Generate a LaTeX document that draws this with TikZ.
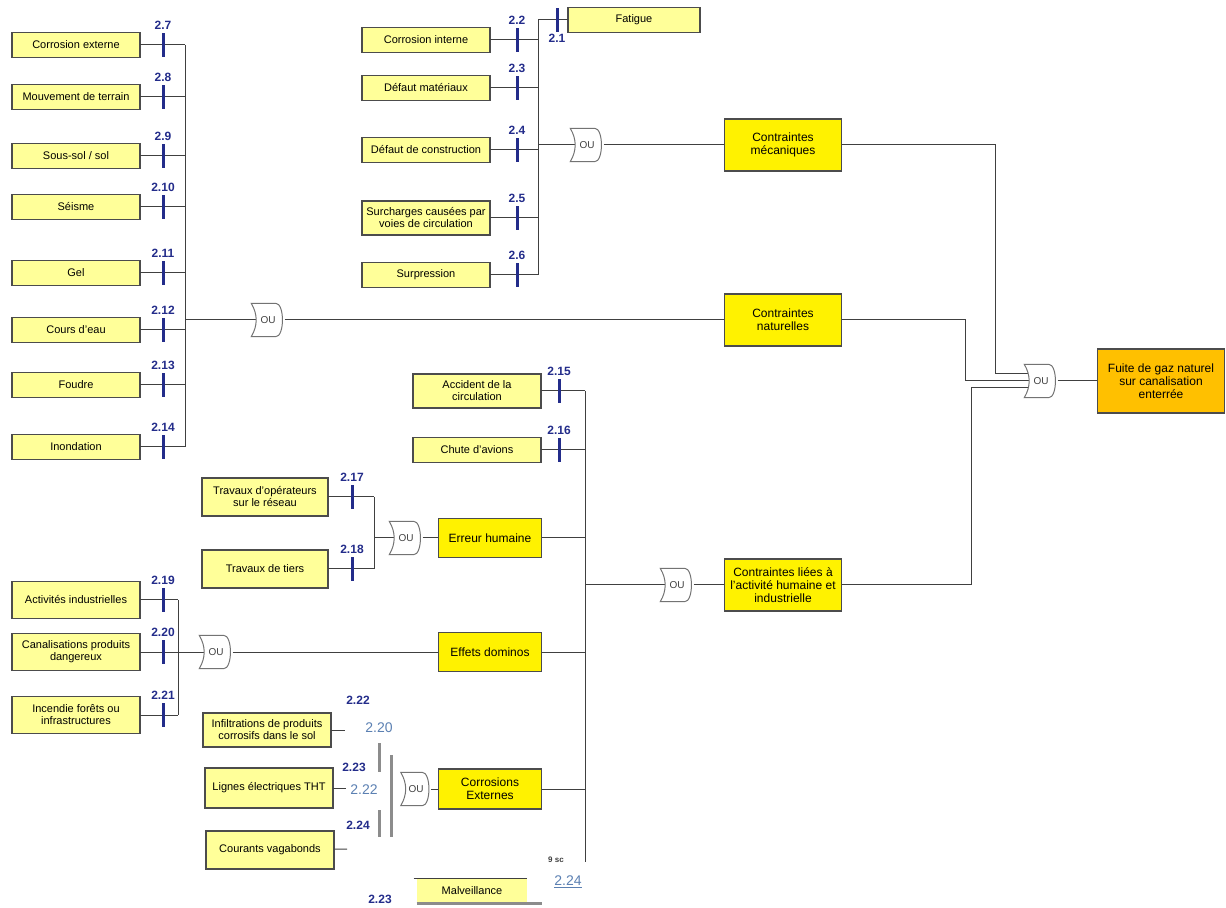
\documentclass[tikz,border=0pt]{standalone}
\usepackage{fontspec}
\setmainfont{Liberation Sans}
\usepackage{xcolor}
\usepackage{tikz}
\usetikzlibrary{positioning}
\definecolor{navy}{HTML}{232C8A}
\definecolor{steel}{HTML}{5B80B2}
\definecolor{paleyel}{HTML}{FFFF99}
\definecolor{gold}{HTML}{FFC000}

\begin{document}
\begin{tikzpicture}[
    x=1pt, y=-1pt, scale=0.5, transform shape,
    leaf/.style={draw=black!70, line width=0.9pt, fill=paleyel, align=center, minimum width=128, minimum height=25, inner xsep=1, inner ysep=7, font=\fontsize{11}{12}\selectfont},
    midbox/.style={leaf, fill=yellow, minimum width=103, minimum height=39, font=\fontsize{12}{13}\selectfont},
    mainbox/.style={midbox, minimum width=117, minimum height=52},
    topbox/.style={midbox, fill=gold, minimum width=127, minimum height=64},
    tick/.style={fill=navy, minimum width=3, minimum height=24, inner sep=0},
    num/.style={text=navy, font=\bfseries\fontsize{12}{12}\selectfont, inner sep=0},
    ref/.style={text=steel, font=\fontsize{14}{14}\selectfont, inner sep=0},
    gate/.style={minimum width=33, minimum height=33, inner sep=0, text=black!75, font=\fontsize{10}{10}\selectfont},
    gateline/.style={draw=black!55, line width=0.5pt},
    wire/.style={draw=black!75, line width=0.5pt},
    bar/.style={draw=black!45, line width=1.5pt}
  ]
  \useasboundingbox (0,0) rectangle (1226,908);

  % Natural causes
  \coordinate (busA) at (185,0);
  \foreach \nm/\yy/\txt/\lbl in {ce/45/Corrosion externe/2.7, mt/97/Mouvement de terrain/2.8, ss/156/{Sous-sol / sol}/2.9, se/207/Séisme/2.10, gel/273/Gel/2.11, cde/330/Cours d'eau/2.12, fou/385/Foudre/2.13, ino/447/Inondation/2.14}{
    \node[leaf] (\nm) at (76,\yy) {\txt};
    \draw[wire] (\nm) -- (\nm -| busA);
    \node[tick] (t\nm) at (163,\yy) {};
    \node[num, above=3pt of t\nm] (n\nm) {\lbl};
  }
  \draw[wire] (ce -| busA) -- (ino -| busA);
  \node[gate] (gN) at (268,320) {OU};
  \draw[wire] (gN -| busA) -- ([xshift=5pt]gN.west);
  \node[mainbox] (cn) at (783,320) {Contraintes\\naturelles};
  \draw[wire] (gN) -- (cn);

  % Mechanical causes
  \coordinate (busM) at (538,0);
  \node[leaf, minimum width=132] (fat) at (634,20) {Fatigue};
  \foreach \nm/\yy/\txt/\lbl in {ci/40/Corrosion interne/2.2, dm/88/Défaut matériaux/2.3, dc/150/Défaut de construction/2.4, sc/218/{Surcharges causées par\\voies de circulation}/2.5, sp/275/Surpression/2.6}{
    \node[leaf] (\nm) at (426,\yy) {\txt};
    \draw[wire] (\nm) -- (\nm -| busM);
    \node[tick] (t\nm) at (517,\yy) {};
    \node[num, above=3pt of t\nm] (n\nm) {\lbl};
  }
  \draw[wire] (fat -| busM) -- (sp -| busM);
  \draw[wire] (fat -| busM) -- (fat);
  \node[tick] (tfat) at (557,20) {};
  \node[num, below=2pt of tfat] (nfat) {2.1};
  \node[gate] (gM) at (587,145) {OU};
  \draw[wire] (gM -| busM) -- ([xshift=5pt]gM.west);
  \node[mainbox] (cm) at (783,145) {Contraintes\\mécaniques};
  \draw[wire] (gM) -- (cm);

  % Top event
  \node[gate] (gF) at (1041,381) {OU};
  \node[topbox] (fuite) at (1161,381) {Fuite de gaz naturel\\sur canalisation\\enterrée};
  \draw[wire] (gF) -- (fuite);
  \coordinate (inM) at (1028,374);
  \coordinate (inN) at (1029,381);
  \coordinate (inH) at (1028,388);
  \coordinate (vM) at (995,0);
  \coordinate (vN) at (965,0);
  \coordinate (vH) at (971,0);
  \draw[wire] (cm) -| (vM |- inM) -- (inM);
  \draw[wire] (cn) -| (vN |- inN) -- (inN);

  % Human and industrial activity
  \coordinate (busH) at (585,0);
  \foreach \nm/\yy/\txt/\lbl in {acc/391/{Accident de la\\circulation}/2.15, chu/450/Chute d'avions/2.16}{
    \node[leaf] (\nm) at (477,\yy) {\txt};
    \draw[wire] (\nm) -- (\nm -| busH);
    \node[tick] (t\nm) at (559,\yy) {};
    \node[num, above=3pt of t\nm] (n\nm) {\lbl};
  }
  \coordinate (hEnd) at (585,862);
  \draw[wire] (acc -| busH) -- (hEnd);
  \node[gate] (gH) at (677,585) {OU};
  \draw[wire] (gH -| busH) -- ([xshift=5pt]gH.west);
  \node[mainbox] (ch) at (783,585) {Contraintes liées à\\l'activité humaine et\\industrielle};
  \draw[wire] (gH) -- (ch);
  \draw[wire] (ch) -| (vH |- inH) -- (inH);

  % Human error
  \coordinate (busT) at (374,0);
  \foreach \nm/\yy/\txt/\lbl in {trop/497/{Travaux d'opérateurs\\sur le réseau}/2.17, trti/569/Travaux de tiers/2.18}{
    \node[leaf, minimum width=126, minimum height=38] (\nm) at (265,\yy) {\txt};
    \draw[wire] (\nm) -- (\nm -| busT);
    \node[tick] (t\nm) at (352,\yy) {};
    \node[num, above=3pt of t\nm] (n\nm) {\lbl};
  }
  \draw[wire] (trop -| busT) -- (trti -| busT);
  \node[gate] (gT) at (406,538) {OU};
  \draw[wire] (gT -| busT) -- ([xshift=5pt]gT.west);
  \node[midbox] (eh) at (490,538) {Erreur humaine};
  \draw[wire] (gT) -- (eh);
  \draw[wire] (eh) -- (eh -| busH);

  % Domino effects
  \coordinate (busI) at (178,0);
  \foreach \nm/\yy/\txt/\lbl in {ai/600/Activités industrielles/2.19, cp/652/{Canalisations produits\\dangereux}/2.20, ifo/715/{Incendie forêts ou\\infrastructures}/2.21}{
    \node[leaf, minimum height=37] (\nm) at (76,\yy) {\txt};
    \draw[wire] (\nm) -- (\nm -| busI);
    \node[tick] (t\nm) at (163,\yy) {};
    \node[num, above=3pt of t\nm] (n\nm) {\lbl};
  }
  \draw[wire] (ai -| busI) -- (ifo -| busI);
  \node[gate] (gI) at (216,652) {OU};
  \draw[wire] (gI -| busI) -- ([xshift=5pt]gI.west);
  \node[midbox] (ed) at (490,652) {Effets dominos};
  \draw[wire] (gI) -- (ed);
  \draw[wire] (ed) -- (ed -| busH);

  % External corrosion
  \node[leaf] (inf) at (267,730) {Infiltrations de produits\\corrosifs dans le sol};
  \node[leaf, minimum height=40] (lig) at (269,788) {Lignes électriques THT};
  \node[leaf, minimum height=38] (cou) at (270,850) {Courants vagabonds};
  \coordinate (sInf) at (345,730);
  \coordinate (sLig) at (346,788);
  \coordinate (sCou) at (347,849);
  \draw[wire] (inf) -- (sInf);
  \draw[wire] (lig) -- (sLig);
  \draw[wire] (cou) -- (sCou);
  \node[num] (n22) at (358,700) {2.22};
  \node[ref] (r20) at (379,728) {2.20};
  \node[num] (n23) at (354,767) {2.23};
  \node[ref] (r22) at (364,790) {2.22};
  \node[num] (n24) at (358,825) {2.24};
  \coordinate (b1) at (379,743);
  \coordinate (b2) at (379,772);
  \coordinate (b3) at (379,810);
  \coordinate (b4) at (379,837);
  \coordinate (b5) at (391,755);
  \coordinate (b6) at (391,837);
  \draw[bar] (b1) -- (b2);
  \draw[bar] (b3) -- (b4);
  \draw[bar] (b5) -- (b6);
  \node[gate, minimum width=30] (gX) at (416,789) {OU};
  \node[midbox, minimum height=40] (cx) at (490,789) {Corrosions\\Externes};
  \draw[wire] (gX) -- (cx);
  \draw[wire] (cx) -- (cx -| busH);

  % Malveillance
  \node[leaf, draw=none, minimum width=110] (mal) at (472,891) {Malveillance};
  \draw[wire] ([xshift=-3pt]mal.north west) -- (mal.north east);
  \draw[bar] (mal.south west) -- ([xshift=15pt]mal.south east);
  \node[num] (n23b) at (380,899) {2.23};
  \node[num, text=black!75, font=\bfseries\fontsize{8}{8}\selectfont] (nsc) at (556,860) {9 sc};
  \node[ref] (r24) at (568,882) {\underline{2.24}};

  % OU gate outlines
  \foreach \g in {gN,gM,gF,gH,gT,gI,gX}
    \draw[gateline] (\g.north west) to[bend left=30] (\g.south west) -- ([xshift=-9pt]\g.south east) .. controls (\g.south east) and (\g.north east) .. ([xshift=-9pt]\g.north east) -- cycle;
\end{tikzpicture}
\end{document}
